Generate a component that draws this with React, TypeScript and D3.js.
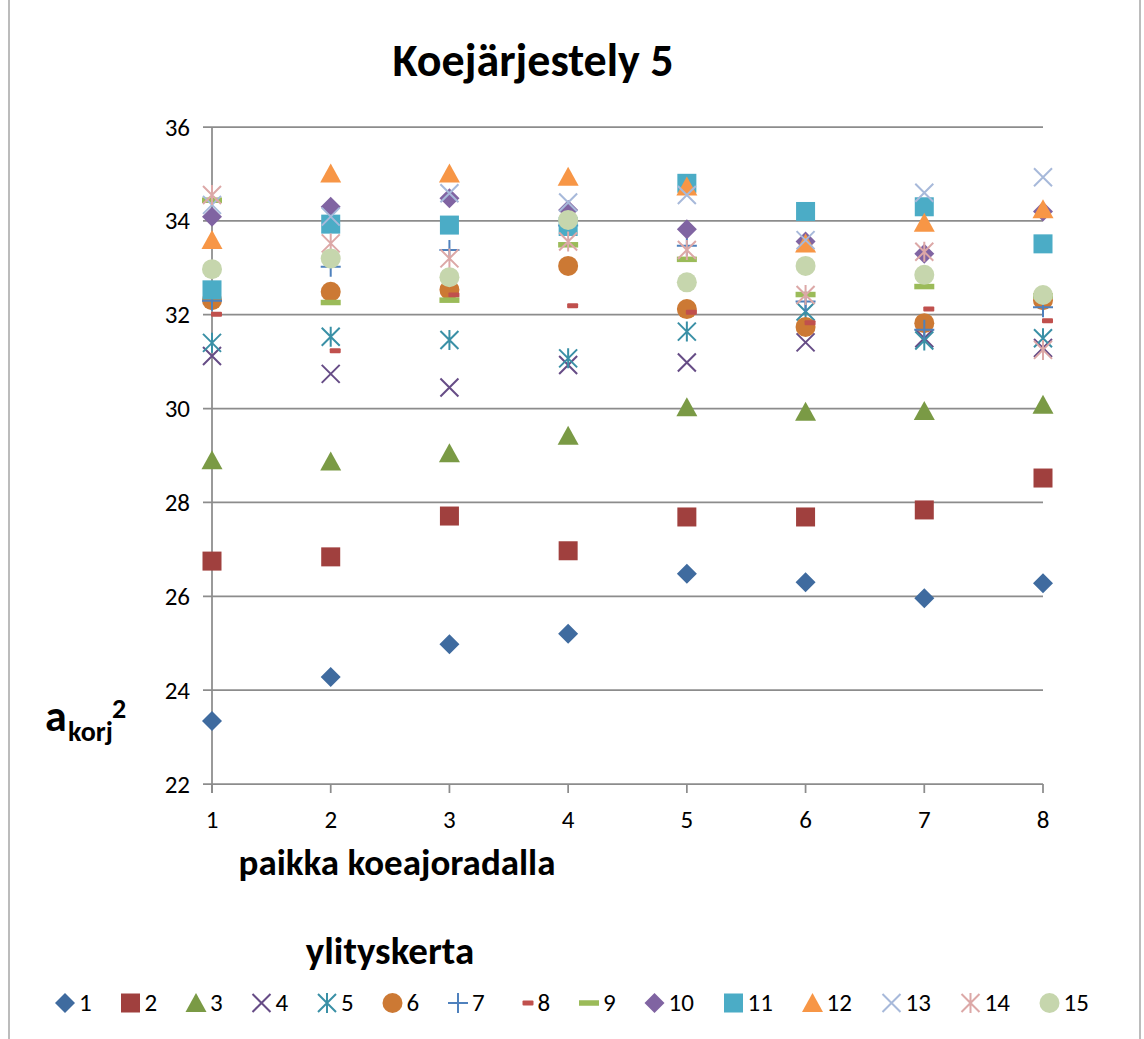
import React from "react";
import * as d3 from "d3";

// Mittauspaikat koeajoradalla (x-akseli)
const places = [1, 2, 3, 4, 5, 6, 7, 8];
const yTicks = [22, 24, 26, 28, 30, 32, 34, 36];

// a_korj^2 -arvot ylityskerroittain
const s1 = [23.34, 24.28, 24.98, 25.2, 26.48, 26.3, 25.96, 26.28];
const s2 = [26.75, 26.84, 27.71, 26.97, 27.69, 27.69, 27.84, 28.52];
const s3 = [28.9, 28.87, 29.05, 29.42, 30.03, 29.93, 29.95, 30.08];
const s4 = [31.12, 30.74, 30.45, 30.93, 30.98, 31.41, 31.5, 31.29];
const s5 = [31.4, 31.53, 31.46, 31.07, 31.64, 32.07, 31.45, 31.5];
const s6 = [32.31, 32.49, 32.53, 33.04, 32.12, 31.74, 31.82, 32.31];
const s7 = [32.3, 33.02, 33.38, 33.9, 33.47, 32.28, 31.68, 32.16];
const s8 = [32.01, 31.23, 32.42, 32.19, 32.05, 31.83, 32.12, 31.87];
const s9 = [34.44, 32.26, 32.31, 33.49, 33.18, 32.43, 32.6, 32.4];
const s10 = [34.09, 34.3, 34.48, 34.23, 33.82, 33.56, 33.3, 34.2];
const s11 = [32.53, 33.93, 33.91, 33.88, 34.8, 34.2, 34.3, 33.51];
const s12 = [33.59, 35.01, 35.01, 34.94, 34.73, 33.52, 33.96, 34.25];
const s13 = [34.34, 34.09, 34.59, 34.39, 34.55, 33.59, 34.6, 34.93];
const s14 = [34.55, 33.52, 33.2, 33.56, 33.38, 32.42, 33.34, 31.25];
const s15 = [32.97, 33.2, 32.8, 34.02, 32.69, 33.04, 32.85, 32.42];

const seriesNames = ["1", "2", "3", "4", "5", "6", "7", "8", "9", "10", "11", "12", "13", "14", "15"];
const seriesValues = [s1, s2, s3, s4, s5, s6, s7, s8, s9, s10, s11, s12, s13, s14, s15];
const seriesShapes = [
  "diamond", "square", "triangle", "x", "star", "circle", "plus", "shortdash",
  "dash", "diamond", "square", "triangle", "x", "star", "circle",
];
const seriesColors = [
  "#3F6B9F", "#A0403E", "#7A9A45", "#664C86", "#3A90A6", "#CC7934", "#4F81BD", "#C0504D",
  "#9BBB59", "#8064A2", "#4BACC6", "#F79646", "#A7B9DA", "#DCA8A7", "#C6D6AD",
];

const FONT = "Carlito, Calibri, Lato, 'Open Sans', sans-serif";

const W = 1144;
const H = 1039;
const x = d3.scaleLinear().domain([1, 8]).range([212, 1043]);
const y = d3.scaleLinear().domain([22, 36]).range([784, 127]);

function Marker({ shape, color, cx, cy }: { shape: string; color: string; cx: number; cy: number }) {
  const t = `translate(${cx},${cy})`;
  switch (shape) {
    case "diamond":
      return <path transform={t} d="M0,-10L10,0L0,10L-10,0Z" fill={color} />;
    case "square":
      return <rect transform={t} x={-9.5} y={-9.5} width={19} height={19} fill={color} />;
    case "triangle":
      return <path transform={t} d="M0,-10L10.5,9L-10.5,9Z" fill={color} />;
    case "circle":
      return <circle transform={t} r={10} fill={color} />;
    case "x":
      return (
        <path transform={t} d="M-9,-9L9,9M-9,9L9,-9" stroke={color} strokeWidth={2} fill="none" />
      );
    case "star":
      return (
        <path
          transform={t}
          d="M-9,-9L9,9M-9,9L9,-9M0,-10L0,10"
          stroke={color}
          strokeWidth={2}
          fill="none"
        />
      );
    case "plus":
      return (
        <path transform={t} d="M-10,0L10,0M0,-10L0,10" stroke={color} strokeWidth={2} fill="none" />
      );
    case "dash":
      return <rect transform={t} x={-10} y={-2.75} width={20} height={5.5} fill={color} />;
    case "shortdash":
      return <rect transform={t} x={-1} y={-2.5} width={11} height={5} rx={1} fill={color} />;
    default:
      return null;
  }
}

export default function App() {
  const gridColor = "#8C8C8C";

  // legend layout: marker, gap, label
  const legendItems: { name: string; mx: number; i: number }[] = [];
  let lx = 65;
  seriesNames.forEach((name, i) => {
    legendItems.push({ name, mx: lx, i });
    lx += name.length === 1 ? 65.5 : 79;
  });

  return (
    <svg width={W} height={H} style={{ display: "block", position: "absolute", left: 0, top: 0 }}>
      <rect x={0} y={0} width={W} height={H} fill="#fff" />
      <rect x={9} y={-5} width={1131} height={H + 20} fill="none" stroke="#A6A6A6" strokeWidth={1.5} />

      {/* title */}
      <text x={533} y={76} textAnchor="middle" fontFamily={FONT} fontWeight={700} fontSize={46} fill="#000">
        Koejärjestely 5
      </text>

      {/* gridlines */}
      {yTicks.map((v) => (
        <line key={v} x1={203} x2={x(8)} y1={y(v)} y2={y(v)} stroke={gridColor} strokeWidth={1.75} />
      ))}
      {/* y axis line */}
      <line x1={x(1)} x2={x(1)} y1={y(36)} y2={y(22) + 9} stroke={gridColor} strokeWidth={1.75} />
      {/* x ticks */}
      {places.map((p) => (
        <line key={p} x1={x(p)} x2={x(p)} y1={y(22)} y2={y(22) + 9} stroke={gridColor} strokeWidth={1.75} />
      ))}

      {/* y tick labels */}
      {yTicks.map((v) => (
        <text key={v} x={190} y={y(v) + 8.5} textAnchor="end" fontFamily={FONT} fontSize={25} fill="#000">
          {v}
        </text>
      ))}
      {/* x tick labels */}
      {places.map((p) => (
        <text key={p} x={x(p)} y={828} textAnchor="middle" fontFamily={FONT} fontSize={25} fill="#000">
          {p}
        </text>
      ))}

      {/* axis titles */}
      <text x={397} y={875} textAnchor="middle" fontFamily={FONT} fontWeight={700} fontSize={37} fill="#000">
        paikka koeajoradalla
      </text>
      <g fontFamily={FONT} fontWeight={700} fill="#000">
        <text x={45} y={731} fontSize={44}>a</text>
        <text x={68} y={741} fontSize={28}>korj</text>
        <text x={112} y={718} fontSize={28}>2</text>
      </g>

      {/* data points */}
      {seriesValues.map((vals, si) => (
        <g key={si}>
          {vals.map((v, pi) => (
            <Marker
              key={pi}
              shape={seriesShapes[si]}
              color={seriesColors[si]}
              cx={x(places[pi])}
              cy={y(v)}
            />
          ))}
        </g>
      ))}

      {/* legend */}
      <text x={390} y={964} textAnchor="middle" fontFamily={FONT} fontWeight={700} fontSize={39} fill="#000">
        ylityskerta
      </text>
      {legendItems.map((it) => (
        <g key={it.name}>
          <Marker shape={seriesShapes[it.i]} color={seriesColors[it.i]} cx={it.mx} cy={1003} />
          <text x={it.mx + 14} y={1011} fontFamily={FONT} fontSize={25} fill="#000">
            {it.name}
          </text>
        </g>
      ))}
    </svg>
  );
}
